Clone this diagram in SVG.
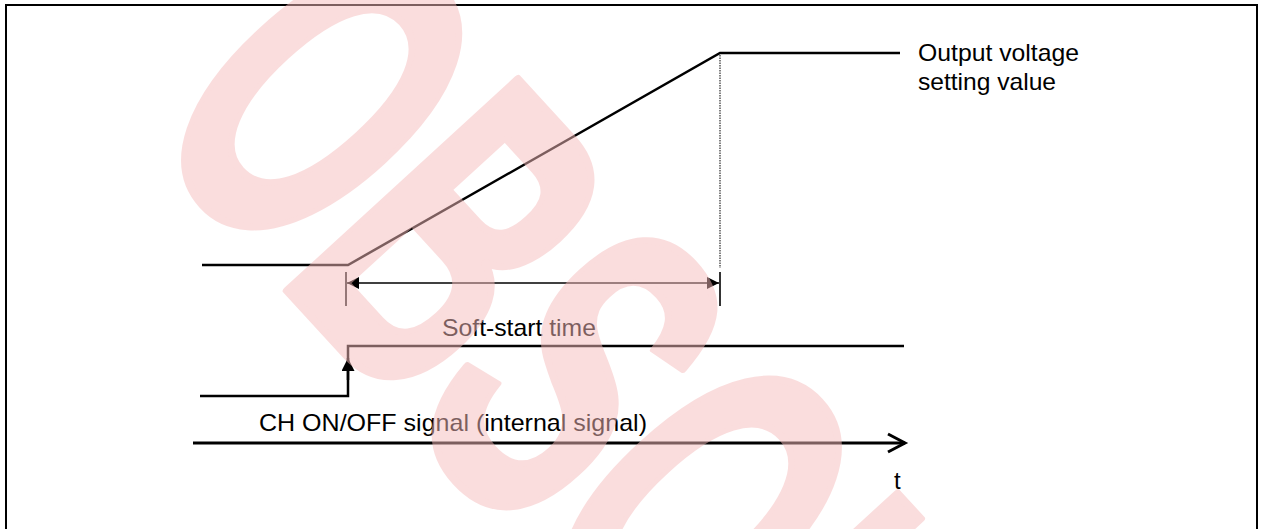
<svg xmlns="http://www.w3.org/2000/svg" width="1263" height="529" viewBox="0 0 1263 529">
<style>
.ln{stroke:#000;stroke-width:2.5;fill:none}
.thin{stroke:#000;stroke-width:1.3;fill:none}
.lbl{font-family:"Liberation Sans",Arial,sans-serif;font-size:24px;fill:#000}
</style>
<defs>
<marker id="ah" viewBox="0 0 10 10" refX="10" refY="5" markerWidth="13" markerHeight="12" markerUnits="userSpaceOnUse" orient="auto-start-reverse">
<path d="M0,0 L10,5 L0,10 Z" fill="#000"/>
</marker>
<marker id="ahUp" viewBox="0 0 10 10" refX="10" refY="5" markerWidth="14" markerHeight="13" markerUnits="userSpaceOnUse" orient="auto">
<path d="M0,0 L10,5 L0,10 Z" fill="#000"/>
</marker>
</defs>
<rect x="0" y="0" width="1263" height="529" fill="#fff"/>
<rect id="frame" x="6" y="5" width="1251" height="535" fill="none" stroke="#000" stroke-width="2"/>

<g id="connectors">
<path class="ln" d="M202,265 L348,265 L720,53 L900,53"/>
<line x1="720" y1="55" x2="720" y2="268" stroke="#000" stroke-width="1" stroke-dasharray="1.5,1"/>
<line class="thin" x1="346" y1="272" x2="346" y2="306" style="stroke-width:1.6"/>
<line class="thin" x1="720" y1="272" x2="720" y2="306" style="stroke-width:1.6"/>
<line class="thin" x1="347" y1="283" x2="719" y2="283" marker-start="url(#ah)" marker-end="url(#ah)"/>
<path class="ln" d="M200,396 L348,396 L348,346 L904,346"/>
<line x1="348" y1="380" x2="348" y2="358" stroke="#000" stroke-width="2.5" marker-end="url(#ahUp)"/>
<line class="ln" x1="193" y1="443" x2="905" y2="443" style="stroke-width:3"/>
<path class="ln" d="M888,434 L905,443 L888,452" style="stroke-width:3"/>
</g>

<g id="label-output"><text class="lbl" x="918" y="61" textLength="161" lengthAdjust="spacingAndGlyphs">Output voltage</text>
<text class="lbl" x="918" y="90" textLength="138" lengthAdjust="spacingAndGlyphs">setting value</text></g>
<g id="label-softstart"><text class="lbl" x="442" y="336" textLength="154" lengthAdjust="spacingAndGlyphs">Soft-start time</text></g>
<g id="label-ch"><text class="lbl" x="259" y="431" textLength="388" lengthAdjust="spacingAndGlyphs">CH ON/OFF signal (internal signal)</text></g>
<g id="label-t"><text class="lbl" x="894" y="489">t</text></g>

<g id="watermark" opacity="0.5">
<text transform="translate(138,128) rotate(47.5) scale(0.57,1)" font-family="Liberation Sans, Arial, sans-serif" font-weight="bold" font-size="455" fill="rgb(247,188,188)" stroke="rgb(247,188,188)" stroke-width="8" stroke-linejoin="round">OBSOLETE</text>
</g>
</svg>
